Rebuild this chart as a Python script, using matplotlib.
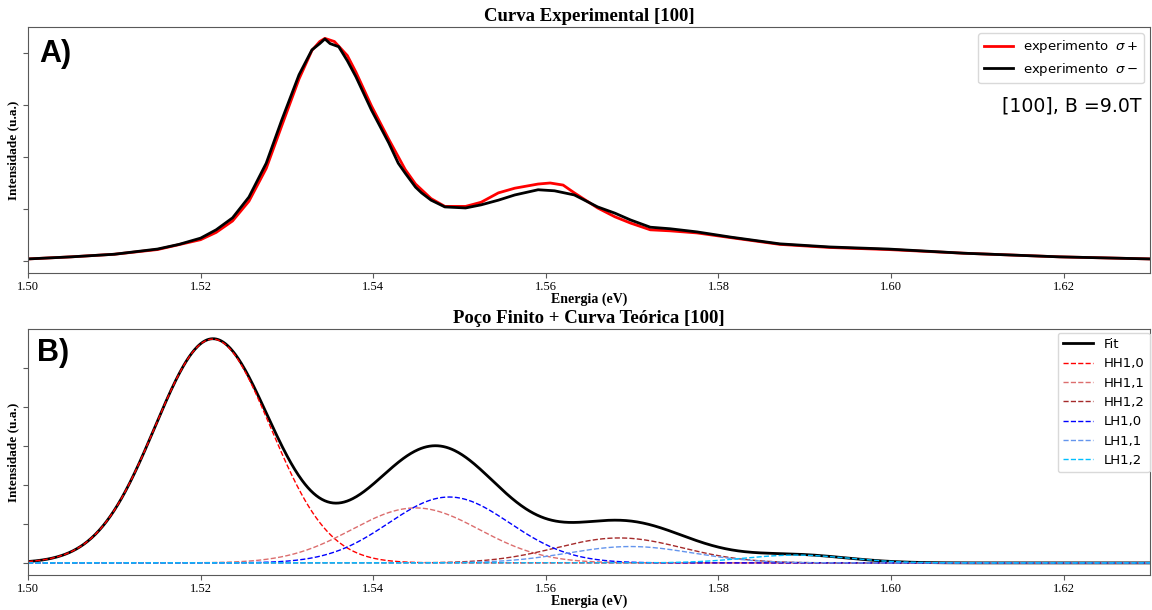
import numpy as np
import matplotlib
matplotlib.use("Agg")
import matplotlib.pyplot as plt

# ---- Experimental spectra, [100], B = 9.0 T ----
energy_plus = [1.500, 1.505, 1.510, 1.515, 1.520, 1.5218, 1.5237, 1.5256, 1.5276, 1.5294,
               1.5314, 1.5329, 1.5338, 1.5344, 1.5355, 1.5370, 1.5380, 1.5398, 1.5418, 1.5437,
               1.5449, 1.5467, 1.5483, 1.5507, 1.5525, 1.5545, 1.5564, 1.5591, 1.5605, 1.5620,
               1.5633, 1.5660, 1.5680, 1.5698, 1.5721, 1.5744, 1.5775, 1.5814, 1.5871, 1.5929,
               1.5997, 1.6084, 1.6195, 1.6300]
sigma_plus = [0.04, 0.08, 0.13, 0.22, 0.41, 0.55, 0.77, 1.15, 1.78, 2.60,
              3.50, 4.05, 4.22, 4.28, 4.22, 3.95, 3.63, 2.98, 2.34, 1.76,
              1.48, 1.20, 1.05, 1.05, 1.13, 1.31, 1.40, 1.48, 1.50, 1.46,
              1.31, 1.02, 0.85, 0.73, 0.60, 0.58, 0.54, 0.45, 0.32, 0.26,
              0.22, 0.15, 0.08, 0.04]

energy_minus = [1.500, 1.505, 1.510, 1.5125, 1.515, 1.5175, 1.520, 1.5218, 1.5237, 1.5256,
                1.5276, 1.5294, 1.5314, 1.5329, 1.5338, 1.5344, 1.5350, 1.5360, 1.5370, 1.5380,
                1.5398, 1.5418, 1.5429, 1.5437, 1.5449, 1.5456, 1.5467, 1.5483, 1.5507, 1.5525,
                1.5545, 1.5564, 1.5591, 1.5610, 1.5633, 1.5660, 1.5680, 1.5698, 1.5721, 1.5744,
                1.5775, 1.5814, 1.5871, 1.5929, 1.5997, 1.6084, 1.6195, 1.6300]
sigma_minus = [0.04, 0.08, 0.13, 0.18, 0.23, 0.32, 0.44, 0.60, 0.83, 1.23,
               1.88, 2.71, 3.58, 4.06, 4.18, 4.27, 4.18, 4.12, 3.85, 3.54,
               2.90, 2.27, 1.88, 1.69, 1.42, 1.31, 1.17, 1.04, 1.02, 1.08,
               1.17, 1.27, 1.37, 1.35, 1.27, 1.04, 0.92, 0.79, 0.65, 0.62,
               0.56, 0.46, 0.33, 0.27, 0.23, 0.15, 0.08, 0.04]

# ---- Finite-well transitions (Gaussian line shapes) ----
transitions = ["HH1,0", "HH1,1", "HH1,2", "LH1,0", "LH1,1", "LH1,2"]
centers = [1.5214, 1.5449, 1.5685, 1.5488, 1.5698, 1.5890]
amplitudes = [5.74, 1.41, 0.64, 1.69, 0.42, 0.20]
widths = [0.0067, 0.0074, 0.0073, 0.0070, 0.0072, 0.0060]
colors = ["red", "#dc6e6e", "brown", "blue", "cornflowerblue", "deepskyblue"]

xticks = [1.50, 1.52, 1.54, 1.56, 1.58, 1.60, 1.62]

serif = "Liberation Serif"

fig = plt.figure(figsize=(11.52, 6.10), dpi=100)
ax1 = fig.add_axes([0.0243, 0.5525, 0.9740, 0.4033])
ax2 = fig.add_axes([0.0243, 0.0574, 0.9740, 0.4033])

frame_color = "0.35"


def style_axes(ax, ylim, yticks, title):
    ax.set_xlim(1.50, 1.63)
    ax.set_ylim(*ylim)
    ax.set_xticks(xticks)
    ax.set_xticklabels([f"{t:.2f}" for t in xticks], fontfamily=serif, fontsize=9)
    ax.set_yticks(yticks)
    ax.set_yticklabels([])
    for sp in ax.spines.values():
        sp.set_color(frame_color)
    ax.tick_params(colors=frame_color, labelcolor="black", length=3.5, pad=2)
    ax.set_xlabel("Energia (eV)", fontfamily=serif, fontweight="bold", fontsize=10)
    ax.xaxis.set_label_coords(0.5, -0.078)
    ax.set_ylabel("Intensidade (u.a.)", fontfamily=serif, fontweight="bold", fontsize=9.5)
    ax.yaxis.set_label_coords(-0.0075, 0.5)
    ax.set_title(title, fontfamily=serif, fontweight="bold", fontsize=13.5, pad=4)


# ---- Panel A: experiment ----
ax1.plot(energy_plus, sigma_plus, color="red", lw=2.0, label="experimento  $\\sigma+$")
ax1.plot(energy_minus, sigma_minus, color="black", lw=2.0, label="experimento  $\\sigma-$")
style_axes(ax1, (-0.23, 4.5), [0, 1, 2, 3, 4], "Curva Experimental [100]")
ax1.legend(loc="upper right", fontsize=9.5, framealpha=1, edgecolor="0.85",
           borderaxespad=0.45, handlelength=2.2, labelspacing=0.45)
ax1.text(0.992, 0.679, "[100], B =9.0T", transform=ax1.transAxes, ha="right", va="center",
         fontsize=13.6)
ax1.text(0.010, 0.95, "A)", transform=ax1.transAxes, ha="left", va="top",
         fontsize=22, fontweight="bold", fontfamily="Liberation Sans")

# ---- Panel B: theory ----
E = np.linspace(1.50, 1.63, 1200)
components = [a * np.exp(-(E - c) ** 2 / (2 * w ** 2))
              for c, a, w in zip(centers, amplitudes, widths)]
fit = np.sum(components, axis=0)
ax2.plot(E, fit, color="black", lw=2.0, label="Fit")
for name, comp, col in zip(transitions, components, colors):
    ax2.plot(E, comp, "--", color=col, lw=1.0, label=name)
style_axes(ax2, (-0.31, 6.0), [0, 1, 2, 3, 4, 5], "Poço Finito + Curva Teórica [100]")
ax2.legend(loc="upper right", bbox_to_anchor=(1.0, 0.985), fontsize=9.5, framealpha=1,
           edgecolor="0.85", borderaxespad=0.0, handlelength=2.3, labelspacing=0.48)
ax2.text(0.008, 0.965, "B)", transform=ax2.transAxes, ha="left", va="top",
         fontsize=22, fontweight="bold", fontfamily="Liberation Sans")

fig.savefig("out.png", dpi=100)
